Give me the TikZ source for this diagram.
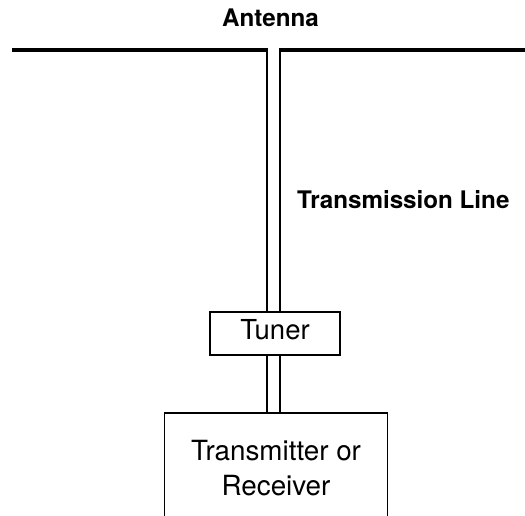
\documentclass[tikz,border=0pt]{standalone}
\usepackage{fontspec}
\setmainfont{TeX Gyre Heros}
\begin{document}
\begin{tikzpicture}[x=1pt,y=1pt,
  boldlabel/.style={font=\fontsize{24.2}{28}\selectfont\bfseries, inner sep=0pt},
  boxnode/.style={draw=black, line width=1.5pt, inner sep=0pt},
  wire/.style={draw=black, line width=2.2pt},
  antline/.style={draw=black, line width=3.4pt}]
\useasboundingbox (0,0) rectangle (525,-515);
\clip (0,0) rectangle (525,-515);
% labels
\node[boldlabel, anchor=base] (antlabel) at (270.5,-26) {Antenna};
\node[boldlabel, anchor=base west] (tllabel) at (297,-208) {Transmission Line};
% boxes
\node[boxnode, minimum width=130pt, minimum height=43pt,
      font=\fontsize{27.5}{30}\selectfont, text height=19.7pt, text depth=7.6pt]
      (tuner) at (275,-333.5) {Tuner};
\node[boxnode, minimum width=223pt, minimum height=110pt, align=center,
      font=\fontsize{27.8}{35}\selectfont]
      (trx) at (276,-468) {Transmitter or\\Receiver};
% antenna
\coordinate (aleft) at (12,-50);
\coordinate (acl) at (267,-50);
\coordinate (acr) at (280,-50);
\coordinate (aright) at (530,-50);
\draw[antline] (aleft) -- ([xshift=1.1pt]acl);
\draw[antline] ([xshift=-1.1pt]acr) -- (aright);
% transmission line
\draw[wire] ([yshift=1.7pt]acl) -- (acl |- tuner.north);
\draw[wire] ([yshift=1.7pt]acr) -- (acr |- tuner.north);
\draw[wire] (acl |- tuner.south) -- (acl |- trx.north);
\draw[wire] (acr |- tuner.south) -- (acr |- trx.north);
\end{tikzpicture}
\end{document}
